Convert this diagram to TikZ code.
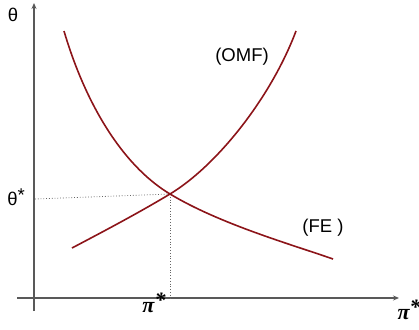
\documentclass[tikz,border=0pt]{standalone}
\usepackage{fontspec}
\setmainfont{Liberation Sans}
\newfontfamily\pifont{Liberation Serif}
\usetikzlibrary{arrows.meta}
\begin{document}
\begin{tikzpicture}[x=1pt,y=-1pt,
  axis/.style={draw=black!65, line width=1.1pt},
  curve/.style={draw={rgb,255:red,140;green,20;blue,25}, line width=1.6pt},
  guide/.style={draw=black!60, line width=0.8pt, dotted},
  lbl/.style={font=\fontsize{18.5}{18.5}\selectfont, inner sep=0pt},
  pilbl/.style={font=\pifont\bfseries\itshape\fontsize{22}{22}\selectfont, inner sep=0pt}]
\useasboundingbox (0,0) rectangle (419,329);
\coordinate (xs) at (17,298);
\coordinate (xe) at (399,298);
\coordinate (ys) at (34,311);
\coordinate (ye) at (34,3);
\draw[axis,-{Stealth[length=6pt,width=5pt]}] (xs) -- (xe);
\draw[axis,-{Stealth[length=6pt,width=5pt]}] (ys) -- (ye);
\coordinate (eq) at (170,194);
\coordinate (ty) at (35,199);
\coordinate (px) at (170,298);
\draw[guide] (ty) -- (eq);
\draw[guide] (eq) -- (px);
\draw[curve] (64,31) .. controls (84,99) and (120,164) .. (eq)
  .. controls (220,224) and (290,244) .. (333,259);
\draw[curve] (72,248) .. controls (110,228) and (140,212) .. (eq)
  .. controls (215,167) and (270,100) .. (296,31);
\node[lbl] (theta) at (13,15) {θ};
\node[lbl] (thetas) at (16,197) {θ\raisebox{0.45ex}{*}};
\node[lbl] (omf) at (242,57) {(OMF)};
\node[lbl] (fe) at (323,228) {(FE )};
\node[pilbl] (pis) at (154,303) {π\raisebox{0.5ex}{*}};
\node[pilbl] (pix) at (409,310) {π\raisebox{0.5ex}{*}};
\end{tikzpicture}
\end{document}
